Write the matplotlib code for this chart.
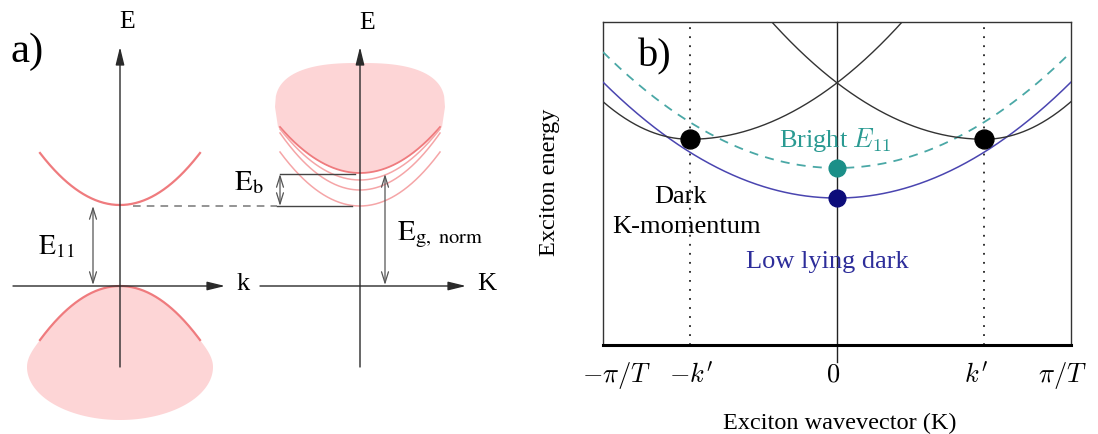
import numpy as np
import matplotlib
matplotlib.use("Agg")
import matplotlib.pyplot as plt
from matplotlib.patches import Polygon
from matplotlib.transforms import ScaledTranslation

plt.rcParams["font.family"] = ["Liberation Serif", "DejaVu Serif"]
plt.rcParams["mathtext.fontset"] = "cm"

# ---------------- panel (b) data: exciton dispersion (K in units of pi/T) ----
k_prime = 0.63
k_ticks = [-1.0, -k_prime, 0.0, k_prime, 1.0]
k_tick_labels = [r"$-\pi/T$", r"$-k'$", r"$0$", r"$k'$", r"$\pi/T$"]
E_low_dark_min = 0.455      # low lying dark exciton, K = 0
E_bright_min = 0.548        # bright E11 exciton, K = 0
E_kmom_min = 0.637          # dark K-momentum excitons, K = +-k'
curv_center = 0.359         # curvature of the K = 0 branches
curv_kmom_inner = 0.44      # curvature of the +-k' branches towards K = 0
curv_kmom_outer = 0.85      # curvature of the +-k' branches towards the zone edge

# ---------------- panel (a) schematic levels (canvas pixels, y downward) ----
cb_min, cb_edge = 205, 153          # conduction band bottom / band ends
vb_max, vb_edge = 286, 340          # valence band top / band ends
exc_levels_min = [173, 180, 190, 206]   # exciton series minima (continuum edge first)
exc_levels_end = [127, 129, 133, 152]   # their heights at the band ends

W, H = 1098, 434
fig = plt.figure(figsize=(W / 100, H / 100), dpi=100)

RED = "#ef7b7e"
RED_LIGHT = "#f5a5a7"
PINK = "#fdd5d6"
AXC = "#2a2a2a"
GRAY = "#555555"

# ======================= panel (a) =======================
axa = fig.add_axes([0, 0, 1, 1])
axa.set_xlim(0, W)
axa.set_ylim(H, 0)
axa.axis("off")


def axis_arrow(x0, y0, x1, y1):
    axa.annotate("", xy=(x1, y1), xytext=(x0, y0),
                 arrowprops=dict(arrowstyle="-|>,head_length=0.9,head_width=0.22",
                                 color=AXC, lw=1.0, shrinkA=0, shrinkB=0,
                                 mutation_scale=12))


def double_arrow(x, y0, y1):
    axa.annotate("", xy=(x, y1), xytext=(x, y0),
                 arrowprops=dict(arrowstyle="<->,head_length=0.8,head_width=0.25",
                                 color=GRAY, lw=0.9, shrinkA=0, shrinkB=0,
                                 mutation_scale=10))


mt = dict(math_fontfamily="stix")
u = np.linspace(-1, 1, 200)

# --- single-particle bands (left) ---
xl0 = 120
# filled valence band sea
top_x = xl0 + 80 * u
top_y = vb_max + (vb_edge - vb_max) * u ** 2
s = np.linspace(0, 1, 20)
right_x = xl0 + 80 + 13 * np.sin(s * np.pi / 2)
right_y = vb_edge + 27 * s
t = np.linspace(0, np.pi, 120)
bot_x = xl0 + 93 * np.cos(t)
bot_y = 367 + 53 * np.sin(t)
left_x = xl0 - 80 - 13 * np.sin(s[::-1] * np.pi / 2)
left_y = vb_edge + 27 * s[::-1]
sea = np.column_stack([np.concatenate([top_x, right_x, bot_x, left_x]),
                       np.concatenate([top_y, right_y, bot_y, left_y])])
axa.add_patch(Polygon(sea, closed=True, facecolor=PINK, edgecolor="none", zorder=1))
axa.plot(top_x, top_y, color=RED, lw=1.6, zorder=2)
axa.plot(xl0 + 80 * u, cb_min - (cb_min - cb_edge) * u ** 2, color=RED, lw=1.6, zorder=2)

axis_arrow(xl0, 367, xl0, 47)
axis_arrow(13, vb_max, 225, vb_max)
axa.text(127, 22, "E", fontsize=18.5, ha="center", va="center")
axa.text(243, 284, "k", fontsize=19, ha="center", va="center")
double_arrow(93, cb_min + 1, vb_max - 1)
axa.text(56, 247, r"$\mathrm{E}_{11}$", fontsize=20, ha="center", va="center", **mt)

# dashed level connecting band gap to exciton ground state
axa.plot([133, 277], [cb_min + 1, cb_min + 1], color="#777777", lw=1.1,
         dashes=(5, 4), zorder=2)

# --- exciton picture (right) ---
xr0 = 360
# continuum blob
uu = np.linspace(-1, 1, 200)
p = 2.6
blob_top_y = 107 - 44 * (1 - np.abs(uu) ** p) ** (1 / p)
blob_top_x = xr0 + 85 * uu
bx = xr0 + 82 * uu[::-1]
by = exc_levels_min[0] - (exc_levels_min[0] - exc_levels_end[0]) * uu[::-1] ** 2
blob = np.column_stack([np.concatenate([blob_top_x, bx]),
                        np.concatenate([blob_top_y, by])])
axa.add_patch(Polygon(blob, closed=True, facecolor=PINK, edgecolor="none", zorder=1))
for i, (ymin, yend) in enumerate(zip(exc_levels_min, exc_levels_end)):
    axa.plot(xr0 + 80 * u, ymin - (ymin - yend) * u ** 2,
             color=RED if i == 0 else RED_LIGHT, lw=1.3 if i == 0 else 1.1, zorder=2)

axis_arrow(xr0, 367, xr0, 47)
axis_arrow(260, vb_max, 466, vb_max)
axa.text(367, 23, "E", fontsize=18.5, ha="center", va="center")
axa.text(487, 284, "K", fontsize=19, ha="center", va="center")

axa.plot([280, 355], [exc_levels_min[0] + 1, exc_levels_min[0] + 1], color="#444444", lw=1.0, zorder=3)
axa.plot([277, 352], [exc_levels_min[-1], exc_levels_min[-1]], color="#444444", lw=1.0, zorder=3)
double_arrow(280, exc_levels_min[0] + 1, exc_levels_min[-1])
axa.text(249, 183, r"$\mathrm{E}_\mathrm{b}$", fontsize=21, ha="center", va="center", **mt)
double_arrow(385, exc_levels_min[0] + 1, vb_max - 1)
axa.text(440, 235, r"$\mathrm{E}_\mathrm{g,\ norm}$", fontsize=21, ha="center", va="center", **mt)

axa.text(27, 52, "a)", fontsize=31, ha="center", va="center")

# ======================= panel (b) =======================
axb = fig.add_axes([603 / W, (H - 345) / H, 468 / W, 323 / H])
axb.set_xlim(-1, 1)
axb.set_ylim(0, 1)

K = np.linspace(-1, 1, 600)
TEAL = "#2a9a92"
NAVY = "#2d2d9a"

axb.plot(K, E_low_dark_min + curv_center * K ** 2, color="#4a45b0", lw=1.1, zorder=3)
axb.plot(K, E_bright_min + curv_center * K ** 2, color="#4aa8a6", lw=1.3,
         dashes=(5, 4), zorder=3)
for c in (-k_prime, k_prime):
    d = K - c
    outer = np.sign(d) == np.sign(c)
    curv = np.where(outer, curv_kmom_outer, curv_kmom_inner)
    axb.plot(K, E_kmom_min + curv * d ** 2, color="#333333", lw=1.0, zorder=3)

for c in (-k_prime, k_prime):
    axb.axvline(c, color="#222222", lw=1.3, ls=(0, (1, 4)), zorder=2)
axb.plot([0, 0], [-0.053, 1], color="#222222", lw=1.0, clip_on=False, zorder=2)

axb.scatter([-k_prime, k_prime], [E_kmom_min] * 2, s=185, color="black", zorder=5)
axb.scatter([0], [E_bright_min], s=145, color="#1b8f88", zorder=5)
axb.scatter([0], [E_low_dark_min], s=145, color="#0c0c7a", zorder=5)

axb.text(-0.009, 0.635, r"Bright $E_{11}$", fontsize=19, color=TEAL, ha="center", va="center")
axb.text(-0.667, 0.458, "Dark", fontsize=19, ha="center", va="center")
axb.text(-0.641, 0.365, "K-momentum", fontsize=19, ha="center", va="center")
axb.text(-0.04, 0.257, "Low lying dark", fontsize=19, color=NAVY, ha="center", va="center")
axb.text(0.111, 0.892, "b)", fontsize=29, ha="center", va="center", transform=axb.transAxes)

# wavevector ticks: labels set just below the axis, nudged inward at the zone edges
axb.set_xticks(k_ticks)
axb.set_xticklabels([])
axb.set_yticks([])
axb.tick_params(axis="x", length=0)
label_nudge_px = [14, 2, -4, -8, -9]
for val, lab, dx in zip(k_ticks, k_tick_labels, label_nudge_px):
    tr = axb.get_xaxis_transform() + ScaledTranslation(dx / 100, 0, fig.dpi_scale_trans)
    axb.text(val, -0.093, lab, fontsize=19, ha="center", va="center", transform=tr)

for name, sp in axb.spines.items():
    sp.set_color("#333333")
    sp.set_linewidth(1.0)
axb.spines["bottom"].set_color("black")
axb.spines["bottom"].set_linewidth(2.2)

axb.text(-0.1143, 0.503, "Exciton energy", rotation=90, fontsize=17.5,
         ha="center", va="center", transform=axb.transAxes)
axb.text(0.506, -0.2415, "Exciton wavevector (K)", fontsize=17.5,
         ha="center", va="center", transform=axb.transAxes)

fig.savefig("out.png", dpi=100)
